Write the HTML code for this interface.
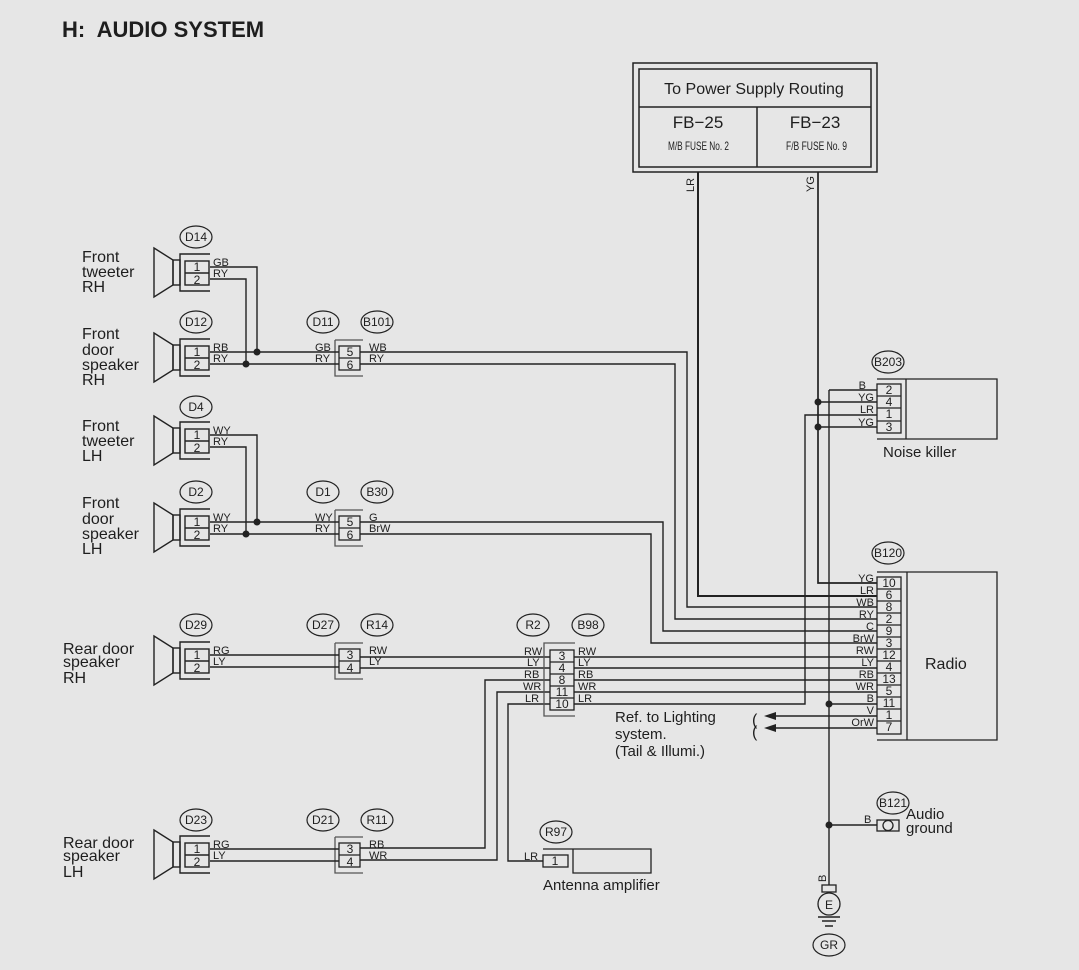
<!DOCTYPE html>
<html><head><meta charset="utf-8"><style>
html,body{margin:0;padding:0;background:#e6e6e6;}
svg{display:block;}
text{font-family:"Liberation Sans",sans-serif;fill:#1e1e1e;}
.s{font-size:11px;}
.n{font-size:12px;text-anchor:middle;}
.o{font-size:12px;text-anchor:middle;}
.l{font-size:16px;}
</style></head><body>
<svg width="1079" height="970" viewBox="0 0 1079 970" xmlns="http://www.w3.org/2000/svg">
<rect width="1079" height="970" fill="#e6e6e6"/>
<defs>
<g id="spk" fill="none" stroke="#222" stroke-width="1.4">
<polygon points="154,-25 173,-13 173,12 154,24"/>
<rect x="173" y="-13" width="7" height="25"/>
<path d="M210,-19 H180 V18 H210"/>
<rect x="185" y="-12" width="24" height="24"/>
<line x1="185" y1="0" x2="209" y2="0"/>
</g>
<g id="con" fill="none" stroke="#222" stroke-width="1.3">
<path d="M335,-18 H363 M335,-18 V18 H363" stroke="#555"/>
<rect x="339" y="-12" width="21" height="24"/>
<line x1="339" y1="0" x2="360" y2="0"/>
</g>
<ellipse id="ov" cx="0" cy="0" rx="16" ry="11" fill="none" stroke="#222" stroke-width="1.2"/>
</defs>

<text x="62" y="37" style="font-size:22px;font-weight:bold;white-space:pre">H:  AUDIO SYSTEM</text>

<!-- fuse box -->
<g fill="none" stroke="#222" stroke-width="1.5">
<rect x="633" y="63" width="244" height="109"/>
<rect x="639" y="69" width="232" height="98"/>
<line x1="639" y1="107" x2="871" y2="107"/>
<line x1="757" y1="107" x2="757" y2="167"/>
</g>
<text x="754" y="94" style="font-size:16px;text-anchor:middle">To Power Supply Routing</text>
<text x="698" y="128" style="font-size:17px;text-anchor:middle">FB−25</text>
<text x="815" y="128" style="font-size:17px;text-anchor:middle">FB−23</text>
<text x="668" y="150" style="font-size:12px" textLength="61" lengthAdjust="spacingAndGlyphs">M/B FUSE No. 2</text>
<text x="786" y="150" style="font-size:12px" textLength="61" lengthAdjust="spacingAndGlyphs">F/B FUSE No. 9</text>
<text class="s" transform="translate(694,192) rotate(-90)">LR</text>
<text class="s" transform="translate(814,192) rotate(-90)">YG</text>

<!-- speakers -->
<use href="#spk" y="273"/><use href="#spk" y="358"/><use href="#spk" y="441"/><use href="#spk" y="528"/><use href="#spk" y="661"/><use href="#spk" y="855"/>
<g class="n">
<text x="197" y="271">1</text><text x="197" y="284">2</text>
<text x="197" y="356">1</text><text x="197" y="369">2</text>
<text x="197" y="439">1</text><text x="197" y="452">2</text>
<text x="197" y="526">1</text><text x="197" y="539">2</text>
<text x="197" y="659">1</text><text x="197" y="672">2</text>
<text x="197" y="853">1</text><text x="197" y="866">2</text>
</g>
<g class="l">
<text x="82" y="262">Front</text><text x="82" y="277">tweeter</text><text x="82" y="292">RH</text>
<text x="82" y="339">Front</text><text x="82" y="355">door</text><text x="82" y="370">speaker</text><text x="82" y="385">RH</text>
<text x="82" y="431">Front</text><text x="82" y="446">tweeter</text><text x="82" y="461">LH</text>
<text x="82" y="508">Front</text><text x="82" y="524">door</text><text x="82" y="539">speaker</text><text x="82" y="554">LH</text>
<text x="63" y="654">Rear door</text><text x="63" y="667">speaker</text><text x="63" y="683">RH</text>
<text x="63" y="848">Rear door</text><text x="63" y="861">speaker</text><text x="63" y="877">LH</text>
</g>

<!-- inline connectors -->
<use href="#con" y="358"/><use href="#con" y="528"/><use href="#con" y="661"/><use href="#con" y="855"/>
<g class="n">
<text x="350" y="356">5</text><text x="350" y="369">6</text>
<text x="350" y="526">5</text><text x="350" y="539">6</text>
<text x="350" y="659">3</text><text x="350" y="672">4</text>
<text x="350" y="853">3</text><text x="350" y="866">4</text>
</g>

<!-- ovals -->
<g>
<use href="#ov" x="196" y="237"/><use href="#ov" x="196" y="322"/><use href="#ov" x="196" y="407"/><use href="#ov" x="196" y="492"/>
<use href="#ov" x="323" y="322"/><use href="#ov" x="377" y="322"/><use href="#ov" x="323" y="492"/><use href="#ov" x="377" y="492"/>
<use href="#ov" x="196" y="625"/><use href="#ov" x="323" y="625"/><use href="#ov" x="377" y="625"/><use href="#ov" x="533" y="625"/><use href="#ov" x="588" y="625"/>
<use href="#ov" x="196" y="820"/><use href="#ov" x="323" y="820"/><use href="#ov" x="377" y="820"/>
<use href="#ov" x="556" y="832"/><use href="#ov" x="888" y="362"/><use href="#ov" x="888" y="553"/><use href="#ov" x="893" y="803"/>
<use href="#ov" x="829" y="945"/>
</g>
<g class="o">
<text x="196" y="241">D14</text><text x="196" y="326">D12</text><text x="196" y="411">D4</text><text x="196" y="496">D2</text>
<text x="323" y="326">D11</text><text x="377" y="326">B101</text><text x="323" y="496">D1</text><text x="377" y="496">B30</text>
<text x="196" y="629">D29</text><text x="323" y="629">D27</text><text x="377" y="629">R14</text><text x="533" y="629">R2</text><text x="588" y="629">B98</text>
<text x="196" y="824">D23</text><text x="323" y="824">D21</text><text x="377" y="824">R11</text>
<text x="556" y="836">R97</text><text x="888" y="366">B203</text><text x="888" y="557">B120</text><text x="893" y="807">B121</text>
<text x="829" y="949">GR</text>
</g>

<!-- wires -->
<g fill="none" stroke="#222" stroke-width="1.4">
<path d="M210,267 H257 V352"/><path d="M210,279 H246 V364"/>
<path d="M210,352 H339"/><path d="M210,364 H339"/>
<path d="M360,352 H687 V607 H877"/><path d="M360,364 H675 V619 H877"/>
<path d="M210,435 H257 V522"/><path d="M210,447 H246 V534"/>
<path d="M210,522 H339"/><path d="M210,534 H339"/>
<path d="M360,522 H663 V631 H877"/><path d="M360,534 H651 V643 H877"/>
<path d="M210,655 H339"/><path d="M210,667 H339"/>
<path d="M360,657 H550"/><path d="M360,668 H550"/>
<path d="M210,849 H339"/><path d="M210,861 H339"/>
<path d="M360,848 H485 V680 H550"/><path d="M360,860 H497 V692 H550"/>
<path d="M543,861 H508 V704 H550"/>
<path d="M574,657 H877"/><path d="M574,668 H877"/><path d="M574,680 H877"/><path d="M574,692 H877"/>
<path d="M574,704 H805 V415 H877"/>
<path d="M698,172 V596 H877" stroke-width="2"/>
<path d="M818,172 V583 H877" stroke-width="1.7"/>
<path d="M818,402 H877"/><path d="M818,427 H877"/>
<path d="M829,390 H877"/><path d="M829,390 V885"/><path d="M829,704 H877"/>
<path d="M829,825 H877"/>
<path d="M770,716 H877"/><path d="M770,728 H877"/>
</g>
<g fill="#222">
<polygon points="764,716 776,712 776,720"/><polygon points="764,728 776,724 776,732"/>
<circle cx="257" cy="352" r="3.5"/><circle cx="246" cy="364" r="3.5"/>
<circle cx="257" cy="522" r="3.5"/><circle cx="246" cy="534" r="3.5"/>
<circle cx="818" cy="402" r="3.5"/><circle cx="818" cy="427" r="3.5"/>
<circle cx="829" cy="704" r="3.5"/><circle cx="829" cy="825" r="3.5"/>
</g>
<text x="752" y="725" style="font-size:16px">(</text>
<text x="752" y="737" style="font-size:16px">(</text>

<!-- wire labels -->
<g class="s">
<text x="213" y="266">GB</text><text x="213" y="277">RY</text>
<text x="213" y="351">RB</text><text x="213" y="362">RY</text>
<text x="213" y="434">WY</text><text x="213" y="445">RY</text>
<text x="213" y="521">WY</text><text x="213" y="532">RY</text>
<text x="213" y="654">RG</text><text x="213" y="665">LY</text>
<text x="213" y="848">RG</text><text x="213" y="859">LY</text>
<text x="315" y="351">GB</text><text x="315" y="362">RY</text>
<text x="315" y="521">WY</text><text x="315" y="532">RY</text>
<text x="369" y="351">WB</text><text x="369" y="362">RY</text>
<text x="369" y="521">G</text><text x="369" y="532">BrW</text>
<text x="369" y="654">RW</text><text x="369" y="665">LY</text>
<text x="369" y="848">RB</text><text x="369" y="859">WR</text>
<text x="524" y="655">RW</text><text x="527" y="666">LY</text><text x="524" y="678">RB</text><text x="523" y="690">WR</text><text x="525" y="702">LR</text>
<text x="578" y="655">RW</text><text x="578" y="666">LY</text><text x="578" y="678">RB</text><text x="578" y="690">WR</text><text x="578" y="702">LR</text>
<text x="524" y="860">LR</text>
<text x="866" y="389" style="text-anchor:end">B</text>
<text x="874" y="401" style="text-anchor:end">YG</text><text x="874" y="413" style="text-anchor:end">LR</text><text x="874" y="426" style="text-anchor:end">YG</text>
<text x="874" y="582" style="text-anchor:end">YG</text><text x="874" y="594" style="text-anchor:end">LR</text><text x="874" y="606" style="text-anchor:end">WB</text><text x="874" y="618" style="text-anchor:end">RY</text><text x="874" y="630" style="text-anchor:end">C</text><text x="874" y="642" style="text-anchor:end">BrW</text><text x="874" y="654" style="text-anchor:end">RW</text><text x="874" y="666" style="text-anchor:end">LY</text><text x="874" y="678" style="text-anchor:end">RB</text><text x="874" y="690" style="text-anchor:end">WR</text><text x="874" y="702" style="text-anchor:end">B</text><text x="874" y="714" style="text-anchor:end">V</text><text x="874" y="726" style="text-anchor:end">OrW</text>
<text x="864" y="823">B</text>
<text transform="translate(826,882) rotate(-90)">B</text>
</g>

<!-- B98 connector -->
<g fill="none" stroke="#222" stroke-width="1.3">
<path d="M575,643 H544 V716 H575" stroke="#555"/>
<rect x="550" y="650" width="24" height="60"/>
<path d="M550,662 H574 M550,674 H574 M550,686 H574 M550,698 H574"/>
</g>
<g class="n"><text x="562" y="660">3</text><text x="562" y="672">4</text><text x="562" y="684">8</text><text x="562" y="696">11</text><text x="562" y="708">10</text></g>

<!-- R97 -->
<g fill="none" stroke="#222" stroke-width="1.3">
<path d="M543,849 H651 V873 H573 V849"/>
<rect x="543" y="855" width="25" height="12"/>
</g>
<text class="n" x="555" y="865">1</text>
<text x="543" y="890" style="font-size:15px">Antenna amplifier</text>

<!-- B203 noise killer -->
<g fill="none" stroke="#222" stroke-width="1.3">
<path d="M877,379 H997 V439 H877 M906,379 V439"/>
<rect x="877" y="384" width="24" height="49"/>
<path d="M877,396 H901 M877,408 H901 M877,421 H901"/>
</g>
<g class="n"><text x="889" y="394">2</text><text x="889" y="406">4</text><text x="889" y="418">1</text><text x="889" y="431">3</text></g>
<text x="883" y="457" style="font-size:15px">Noise killer</text>

<!-- B120 radio -->
<g fill="none" stroke="#222" stroke-width="1.3">
<path d="M877,572 H997 V740 H877 M907,572 V740"/>
<rect x="877" y="577" width="24" height="157"/>
<path d="M877,589 H901 M877,601 H901 M877,613 H901 M877,625 H901 M877,637 H901 M877,649 H901 M877,661 H901 M877,673 H901 M877,685 H901 M877,697 H901 M877,709 H901 M877,721 H901"/>
</g>
<g class="n">
<text x="889" y="587">10</text><text x="889" y="599">6</text><text x="889" y="611">8</text><text x="889" y="623">2</text><text x="889" y="635">9</text><text x="889" y="647">3</text><text x="889" y="659">12</text><text x="889" y="671">4</text><text x="889" y="683">13</text><text x="889" y="695">5</text><text x="889" y="707">11</text><text x="889" y="719">1</text><text x="889" y="731">7</text>
</g>
<text x="925" y="669" style="font-size:16px">Radio</text>
<text x="615" y="722" style="font-size:15px">Ref. to Lighting</text>
<text x="615" y="739" style="font-size:15px">system.</text>
<text x="615" y="756" style="font-size:15px">(Tail &amp; Illumi.)</text>

<!-- ground -->
<g fill="none" stroke="#222" stroke-width="1.3">
<rect x="877" y="820" width="22" height="11"/>
<circle cx="888" cy="825.5" r="5"/>
<rect x="822" y="885" width="14" height="7"/>
<circle cx="829" cy="904" r="11"/>
<path d="M818,917 H840 M822,921 H836 M825,926 H833" stroke-width="1.6"/>
</g>
<text x="829" y="909" class="n">E</text>
<text x="906" y="819" style="font-size:15px">Audio</text>
<text x="906" y="833" style="font-size:15px">ground</text>
</svg>
</body></html>
